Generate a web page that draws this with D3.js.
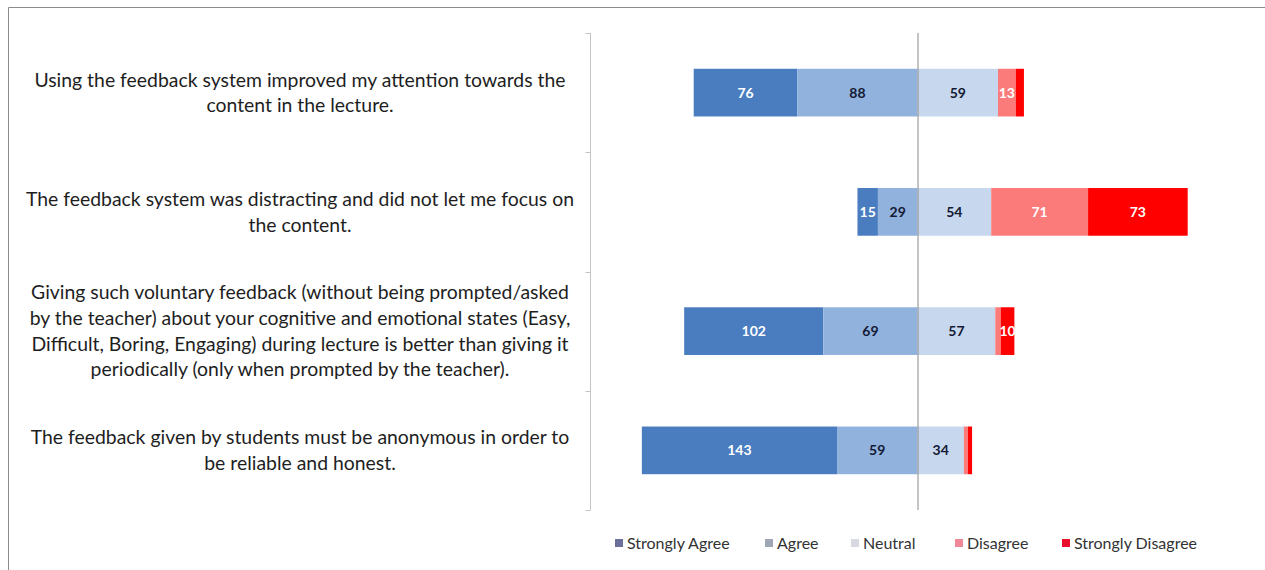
<!DOCTYPE html>
<html>
<head>
<meta charset="utf-8">
<script src="https://cdn.jsdelivr.net/npm/d3@7"></script>
<style>
  html, body { margin: 0; padding: 0; background: #ffffff; }
  svg { display: block; }
</style>
</head>
<body>
<svg id="chart" width="1265" height="570"></svg>
<script>
// ---------- data ----------
const categories = ["Q1", "Q2", "Q3", "Q4"];
const questionLines = [
  ["Using the feedback system improved my attention towards the", "content in the lecture."],
  ["The feedback system was distracting and did not let me focus on", "the content."],
  ["Giving such voluntary feedback (without being prompted/asked", "by the teacher) about your cognitive and emotional states (Easy,", "Difficult, Boring, Engaging) during lecture is better than giving it", "periodically (only when prompted by the teacher)."],
  ["The feedback given by students must be anonymous in order to", "be reliable and honest."]
];
const seriesNames = ["Strongly Agree", "Agree", "Neutral", "Disagree", "Strongly Disagree"];
const stronglyAgree    = [76, 15, 102, 143];
const agree            = [88, 29, 69, 59];
const neutral          = [59, 54, 57, 34];
const disagree         = [13, 71, 4, 3];
const stronglyDisagree = [6, 73, 10, 3];

// ---------- styles ----------
const barColors    = ["#4a7dbf", "#92b2de", "#c7d7ee", "#fb7b7b", "#ff0000"];
const legendColors = ["#6a6f9b", "#9ea6b7", "#d6d9df", "#f2879a", "#e8102a"];
const valueColors  = ["#ffffff", "#141a33", "#141a33", "#ffffff", "#ffffff"];
const FONT = "Lato, 'Open Sans', sans-serif";

const svg = d3.select("#chart");

// frame
svg.append("path")
  .attr("d", "M8.5,570 V7.5 H1265")
  .attr("fill", "none").attr("stroke", "#8c8c8c").attr("stroke-width", 1);

// ---------- scales ----------
const x = d3.scaleLinear().domain([-240, 240]).range([590, 1245]);
const y = d3.scaleBand().domain(categories).range([33, 510]).paddingInner(0.6).paddingOuter(0.3);

// build segments
const seriesData = [stronglyAgree, agree, neutral, disagree, stronglyDisagree];
const segments = [];
categories.forEach((c, i) => {
  let left = -(stronglyAgree[i] + agree[i]);
  seriesData.forEach((arr, s) => {
    const v = arr[i];
    segments.push({ cat: c, s, v, x0: left, x1: left + v });
    left += v;
  });
});

// bars
svg.append("g").selectAll("rect").data(segments).join("rect")
  .attr("x", d => x(d.x0))
  .attr("y", d => y(d.cat))
  .attr("width", d => x(d.x1) - x(d.x0))
  .attr("height", y.bandwidth())
  .attr("fill", d => barColors[d.s]);

// value labels (only for the larger segments, as in the picture)
svg.append("g").selectAll("text").data(segments.filter(d => d.v >= 10)).join("text")
  .attr("x", d => (x(d.x0) + x(d.x1)) / 2)
  .attr("y", d => y(d.cat) + y.bandwidth() / 2)
  .attr("dy", "0.36em")
  .attr("text-anchor", "middle")
  .attr("font-family", FONT)
  .attr("font-weight", "bold")
  .attr("font-size", 14)
  .attr("fill", d => valueColors[d.s])
  .text(d => d.v);

// zero line
svg.append("line")
  .attr("x1", x(0) + 0.5).attr("x2", x(0) + 0.5)
  .attr("y1", 33).attr("y2", 510)
  .attr("stroke", "#8a8a8a").attr("stroke-width", 1);

// category axis with ticks between categories
const axisX = 590.5;
const axisG = svg.append("g");
axisG.append("line").attr("x1", axisX).attr("x2", axisX).attr("y1", 33).attr("y2", 510)
  .attr("stroke", "#c4c4c4");
const boundaries = categories.map(c => y(c) - y.step() * y.paddingInner() / 2);
boundaries.push(510);
boundaries[0] = 33;
axisG.selectAll("line.tick").data(boundaries).join("line").attr("class", "tick")
  .attr("x1", axisX - 5).attr("x2", axisX)
  .attr("y1", d => Math.round(d) + 0.5).attr("y2", d => Math.round(d) + 0.5)
  .attr("stroke", "#c4c4c4");

// question labels
const lineH = 25.7;
const labelG = svg.append("g");
categories.forEach((c, i) => {
  const lines = questionLines[i];
  const cy = y(c) + y.bandwidth() / 2;
  const t = labelG.append("text")
    .attr("text-anchor", "middle")
    .attr("font-family", FONT)
    .attr("font-size", 19.4)
    .attr("fill", "#1e1e1e");
  lines.forEach((ln, k) => {
    t.append("tspan")
      .attr("x", 300)
      .attr("y", cy + (k - (lines.length - 1) / 2) * lineH)
      .attr("dy", "0.35em")
      .text(ln);
  });
});

// legend
const legendX = [615, 765, 851, 955, 1062];
const lg = svg.append("g");
seriesNames.forEach((n, i) => {
  lg.append("rect").attr("x", legendX[i]).attr("y", 539).attr("width", 8).attr("height", 8)
    .attr("fill", legendColors[i]);
  lg.append("text").attr("x", legendX[i] + 12).attr("y", 543).attr("dy", "0.35em")
    .attr("font-family", FONT).attr("font-size", 16).attr("fill", "#333333").text(n);
});
</script>
</body>
</html>
